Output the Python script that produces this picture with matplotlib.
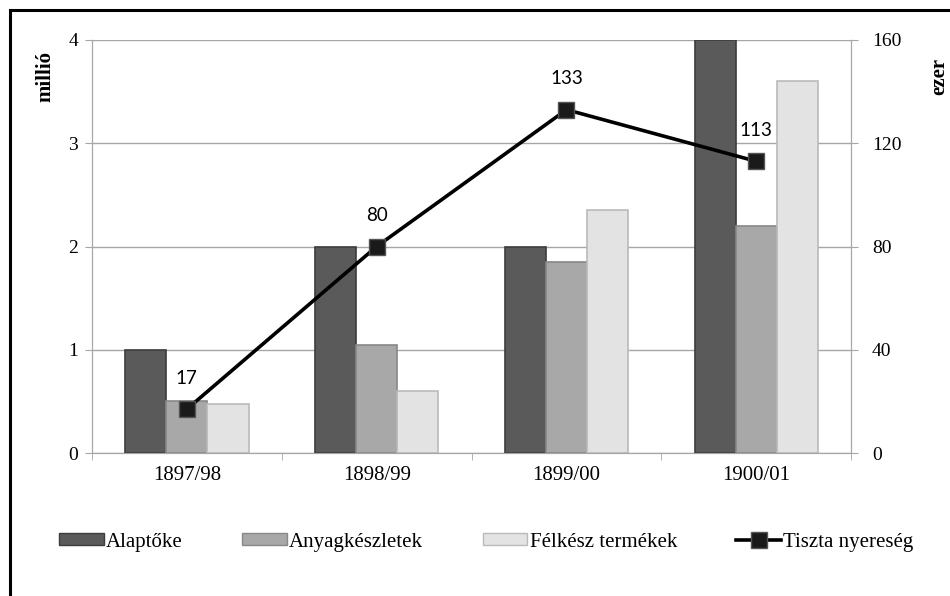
import numpy as np
import matplotlib.pyplot as plt
from matplotlib.patches import Rectangle
from matplotlib.lines import Line2D

years = ["1897/98", "1898/99", "1899/00", "1900/01"]
alaptoke = [1.0, 2.0, 2.0, 4.0]
anyag = [0.5, 1.05, 1.85, 2.2]
felkesz = [0.47, 0.6, 2.35, 3.6]
nyereseg = [17, 80, 133, 113]

serif = "Liberation Serif"
grid_c = "#a6a6a6"
colors = [("#5a5a5a", "#3c3c3c"), ("#a8a8a8", "#888888"), ("#e3e3e3", "#bababa")]

fig = plt.figure(figsize=(9.5, 5.96), dpi=100)
ax = fig.add_axes([0.0968, 0.2399, 0.7992, 0.693])

x = np.arange(len(years))
w = 0.217
for off, vals, (fc, ec) in zip([-w, 0, w], [alaptoke, anyag, felkesz], colors):
    ax.bar(x + off, vals, w, color=fc, edgecolor=ec, linewidth=1.2, zorder=3)

ax.set_xlim(-0.5, 3.5)
ax.set_ylim(0, 4)
ax.set_yticks([0, 1, 2, 3, 4])
ax.yaxis.grid(True, color=grid_c, linewidth=1)
ax.set_axisbelow(True)
ax.set_xticks(x)
ax.set_xticklabels(years, fontfamily=serif, fontsize=15)
ax.set_xticks(np.arange(-0.5, 4, 1), minor=True)
ax.tick_params(axis="x", which="major", length=0, pad=9)
ax.tick_params(axis="x", which="minor", length=5, color=grid_c)
ax.tick_params(axis="y", length=5, color=grid_c, labelsize=14, pad=5)
ax.spines["top"].set_visible(False)
for s in ["left", "bottom", "right"]:
    ax.spines[s].set_color(grid_c)

ax2 = ax.twinx()
ax2.set_ylim(0, 160)
ax2.set_yticks([0, 40, 80, 120, 160])
ax2.tick_params(axis="y", length=5, color=grid_c, labelsize=14, pad=10)
for lab in ax.get_yticklabels() + ax2.get_yticklabels():
    lab.set_fontfamily(serif)
ax2.spines["top"].set_visible(False)
for s in ["left", "bottom", "right"]:
    ax2.spines[s].set_color(grid_c)
ax2.plot(x, nyereseg, color="black", linewidth=2.6, marker="s", markersize=12,
         markerfacecolor="#1a1a1a", markeredgecolor="#555555", zorder=4)
for xi, v in zip(x, nyereseg):
    ax2.annotate(str(v), (xi, v), xytext=(0, 16), textcoords="offset points",
                 ha="center", va="bottom", fontsize=13.5, fontfamily="Lato")

fig.text(45 / 950, 1 - 76 / 596, "millió", rotation=90, ha="center", va="center",
         fontfamily=serif, fontweight="bold", fontsize=15)
fig.text(939 / 950, 1 - 76 / 596, "ezer", rotation=90, ha="center", va="center",
         fontfamily=serif, fontweight="bold", fontsize=15)

handles = [Rectangle((0, 0), 1, 1, facecolor=fc, edgecolor=ec) for fc, ec in colors]
handles.append(Line2D([], [], color="black", linewidth=2.6, marker="s", markersize=12,
                      markerfacecolor="#1a1a1a", markeredgecolor="#555555"))
labels = ["Alaptőke", "Anyagkészletek", "Félkész termékek", "Tiszta nyereség"]
fig.legend(handles, labels, loc="center", bbox_to_anchor=(0.512, 0.0906), ncol=4,
           frameon=False, prop={"family": serif, "size": 15},
           handlelength=2.15, handleheight=0.55, handletextpad=0.1, columnspacing=2.85)

fig.patches.append(Rectangle((10 / 950, -0.1), 1.2, 1 - 10 / 596 + 0.1,
                             transform=fig.transFigure, fill=False,
                             edgecolor="black", linewidth=2.2))

fig.savefig("out.png", dpi=100)
